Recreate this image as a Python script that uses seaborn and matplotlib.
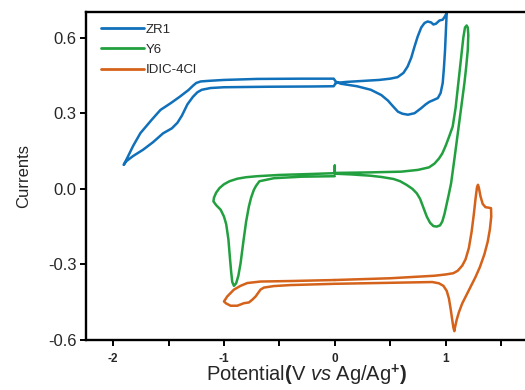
import matplotlib
matplotlib.use("Agg")
import matplotlib.pyplot as plt
import seaborn as sns
import pandas as pd
from matplotlib.ticker import FixedLocator

# ---- data ----
zr1_x = [0.01, 0.10, 0.25, 0.40, 0.50, 0.567, 0.62, 0.657, 0.69, 0.72, 0.748, 0.78, 0.81, 0.838, 0.87,
         0.89, 0.913, 0.945, 0.974, 0.995, 1.01,
         1.005, 0.995, 0.985, 0.974, 0.955, 0.93, 0.89, 0.853, 0.82, 0.78, 0.72, 0.66, 0.61, 0.57, 0.52,
         0.48, 0.42, 0.325, 0.20, 0.054, 0.01, -0.01,
         -0.30, -0.70, -1.00, -1.15, -1.21, -1.25, -1.28, -1.32, -1.40, -1.48, -1.573, -1.65, -1.754,
         -1.82, -1.87, -1.905,
         -1.88, -1.82, -1.73, -1.64, -1.55, -1.47, -1.42, -1.38, -1.33, -1.28, -1.24, -1.20, -1.12,
         -1.00, -0.60, -0.20, -0.01, 0.01]
zr1_y = [0.420, 0.424, 0.428, 0.432, 0.437, 0.443, 0.460, 0.485, 0.520, 0.565, 0.604, 0.640, 0.658, 0.664, 0.660,
         0.652, 0.655, 0.668, 0.671, 0.685, 0.698,
         0.650, 0.550, 0.480, 0.420, 0.380, 0.360, 0.352, 0.345, 0.335, 0.320, 0.300, 0.294, 0.298, 0.306, 0.330,
         0.350, 0.372, 0.393, 0.407, 0.417, 0.425, 0.437,
         0.437, 0.436, 0.432, 0.428, 0.426, 0.420, 0.409, 0.392, 0.365, 0.340, 0.313, 0.275, 0.221,
         0.170, 0.125, 0.095,
         0.110, 0.130, 0.155, 0.185, 0.220, 0.240, 0.262, 0.290, 0.335, 0.365, 0.383, 0.393, 0.400,
         0.403, 0.405, 0.406, 0.407, 0.420]

y6_x = [0.00, -0.30, -0.55, -0.68, -0.71, -0.73, -0.755, -0.775, -0.80, -0.825, -0.85, -0.87, -0.89, -0.91,
        -0.925, -0.935, -0.945, -0.96, -0.98, -1.00, -1.03, -1.07, -1.095,
        -1.09, -1.07, -1.04, -1.00, -0.95, -0.88, -0.80, -0.70, -0.50, -0.20, 0.00, 0.00, 0.00,
        0.30, 0.60, 0.75, 0.85, 0.90, 0.94, 0.97, 1.00, 1.03, 1.064, 1.09, 1.115, 1.14, 1.16, 1.175, 1.19,
        1.20, 1.205, 1.20, 1.185, 1.17, 1.14, 1.11, 1.08, 1.05, 1.03, 1.01, 0.99, 0.97, 0.95, 0.92, 0.89,
        0.86, 0.83, 0.80, 0.77, 0.74, 0.70, 0.65, 0.59, 0.53, 0.42, 0.32, 0.15, 0.00]
y6_y = [0.050, 0.048, 0.042, 0.030, 0.012, -0.004, -0.035, -0.070, -0.130, -0.210, -0.295, -0.345, -0.375, -0.385,
        -0.370, -0.330, -0.280, -0.200, -0.140, -0.110, -0.083, -0.065, -0.050,
        -0.035, -0.015, 0.003, 0.018, 0.030, 0.040, 0.046, 0.050, 0.055, 0.059, 0.062, 0.092, 0.063,
        0.065, 0.068, 0.075, 0.085, 0.100, 0.120, 0.140, 0.170, 0.205, 0.247, 0.320, 0.420, 0.520, 0.600, 0.640, 0.648,
        0.640, 0.610, 0.550, 0.480, 0.420, 0.320, 0.220, 0.120, 0.023, -0.020, -0.060, -0.100, -0.130, -0.145, -0.150, -0.148,
        -0.135, -0.110, -0.075, -0.040, -0.018, 0.000, 0.015, 0.030, 0.039, 0.047, 0.052, 0.057, 0.060]

idic_x = [0.00, 0.50, 0.90, 1.00, 1.07, 1.11, 1.15, 1.18, 1.21, 1.235, 1.255, 1.27, 1.283, 1.292, 1.30, 1.315,
          1.335, 1.36, 1.39, 1.41, 1.412, 1.40, 1.38, 1.35, 1.31, 1.27, 1.23, 1.19, 1.15, 1.12, 1.10, 1.085,
          1.079, 1.07, 1.06, 1.045, 1.03, 1.01, 0.98, 0.94, 0.88, 0.50, 0.00, -0.40, -0.55, -0.64, -0.67,
          -0.714, -0.744, -0.775, -0.82, -0.88, -0.94, -0.98, -1.00, -0.97, -0.91, -0.85, -0.79, -0.67,
          -0.40, 0.00]
idic_y = [-0.362, -0.355, -0.345, -0.340, -0.335, -0.325, -0.305, -0.280, -0.235, -0.170, -0.100, -0.040, 0.005, 0.016, 0.005, -0.030,
          -0.060, -0.073, -0.075, -0.077, -0.110, -0.160, -0.210, -0.260, -0.310, -0.350, -0.385, -0.420, -0.455, -0.490, -0.520, -0.550,
          -0.565, -0.550, -0.520, -0.475, -0.435, -0.405, -0.385, -0.375, -0.370, -0.373, -0.377, -0.382, -0.386, -0.392, -0.400,
          -0.427, -0.440, -0.451, -0.454, -0.464, -0.464, -0.455, -0.447, -0.427, -0.400, -0.385, -0.374, -0.368,
          -0.366, -0.362]

labels = ["ZR1", "Y6", "IDIC-4Cl"]
colors = ["#1070BA", "#22A03F", "#D4621A"]
x_ticks = [-2, -1, 0, 1]
x_minor = [-1.5, -0.5, 0.5, 1.5]
y_ticks = [-0.6, -0.3, 0.0, 0.3, 0.6]

frames = []
for name, xs, ys in zip(labels, [zr1_x, y6_x, idic_x], [zr1_y, y6_y, idic_y]):
    frames.append(pd.DataFrame({"Potential": xs, "Current": ys, "Sample": name}))
df = pd.concat(frames, ignore_index=True)

sns.set_theme(style="ticks")
plt.rcParams["font.family"] = ["Liberation Sans", "DejaVu Sans"]
plt.rcParams["mathtext.fontset"] = "custom"
plt.rcParams["mathtext.rm"] = "Liberation Sans"
plt.rcParams["mathtext.it"] = "Liberation Sans:italic"
plt.rcParams["mathtext.bf"] = "Liberation Sans:bold"

fig = plt.figure(figsize=(5.25, 3.9), dpi=100)
ax = fig.add_axes([86 / 525, 1 - 340 / 390, 1 - 86 / 525 + 0.006, 327.6 / 390])

for name, c in zip(labels, colors):
    sub = df[df["Sample"] == name]
    sns.lineplot(data=sub, x="Potential", y="Current", sort=False, estimator=None,
                 color=c, linewidth=1.8, label=name, ax=ax,
                 solid_joinstyle="round", solid_capstyle="round")

ax.set_xlim(-2.245, 1.745)
ax.set_ylim(-0.6, 0.7)
ax.xaxis.set_major_locator(FixedLocator(x_ticks))
ax.xaxis.set_minor_locator(FixedLocator(x_minor))
ax.yaxis.set_major_locator(FixedLocator(y_ticks))
ax.set_xticklabels([str(t) for t in x_ticks], fontsize=8.5, fontweight="bold")
ax.set_yticklabels(["%.1f" % t for t in y_ticks], fontsize=12)
ax.tick_params(axis="both", which="both", direction="out", length=4, width=1.4, color="black", pad=3)
ax.tick_params(axis="x", which="major", pad=5)

for s in ["left", "bottom", "top"]:
    ax.spines[s].set_linewidth(1.7)
    ax.spines[s].set_color("black")
ax.spines["right"].set_visible(False)

ax.set_xlabel(r"Potential$\mathbf{(}$V $\mathit{vs}$ Ag/Ag$^{\mathbf{+}}$$\mathbf{)}$",
              fontsize=14.5, labelpad=-1)
ax.set_ylabel("Currents", fontsize=12, labelpad=12)

leg = ax.legend(loc="upper left", bbox_to_anchor=(0.015, 0.99), frameon=False, fontsize=9.5,
                handlelength=3.3, handletextpad=0.1, labelspacing=0.6, borderaxespad=0.2)
for h in leg.get_lines():
    h.set_linewidth(2.0)

fig.savefig("out.png", dpi=100)
